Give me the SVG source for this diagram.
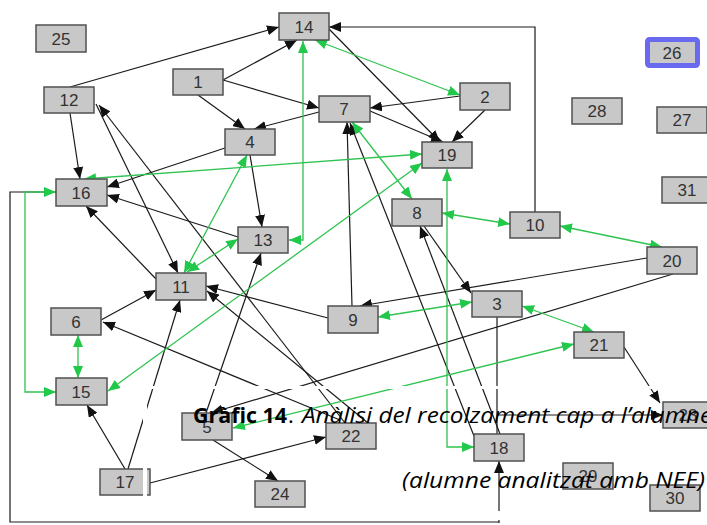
<svg xmlns="http://www.w3.org/2000/svg" width="707" height="525" viewBox="0 0 707 525">
  <style>
    .node rect { fill: #c8c8c8; stroke: #505050; stroke-width: 1.5; }
    .node text { font-family: "Liberation Sans", Arial, sans-serif; font-size: 17px; fill: #333; text-anchor: middle; }
    .e { fill: none; stroke: #1a1a1a; stroke-width: 1.2; }
    .g { fill: none; stroke: #2fc350; stroke-width: 1.3; }
    .ea { marker-end: url(#ab); }
    .ga2 { marker-start: url(#ag); marker-end: url(#ag); }
    .cap { font-family: "Open Sans", "Noto Sans", sans-serif; font-size: 22px; fill: #000; }
  </style>
  <defs>
    <marker id="ab" viewBox="0 0 12 10" refX="12" refY="5" markerWidth="12" markerHeight="10" markerUnits="userSpaceOnUse" orient="auto-start-reverse">
      <path d="M0,0 L12,5 L0,10 Z" fill="#111"/>
    </marker>
    <marker id="ag" viewBox="0 0 12 10" refX="12" refY="5" markerWidth="12" markerHeight="10" markerUnits="userSpaceOnUse" orient="auto-start-reverse">
      <path d="M0,0 L12,5 L0,10 Z" fill="#22c84a"/>
    </marker>
  </defs>

  <!-- connectors -->
  <g id="edges">
    <!-- directed links -->
    <path class="e ea" d="M70,87 L279,27"/>
    <path class="e ea" d="M223,80 L297,40"/>
    <path class="e ea" d="M223,80 L319,108"/>
    <path class="e ea" d="M198,95 L245,129"/>
    <path class="e ea" d="M319,112 L254,129"/>
    <path class="e ea" d="M329,29 L440,142"/>
    <path class="e ea" d="M535,212 V27 H329"/>
    <path class="e ea" d="M460,96 L370,108"/>
    <path class="e ea" d="M370,111 L443,142"/>
    <path class="e ea" d="M485,110 L452,142"/>
    <path class="e ea" d="M70,113 L80,179"/>
    <path class="e ea" d="M96,104 L178,273"/>
    <path class="e ea" d="M345,423 L99,105"/>
    <path class="e ea" d="M368,423 L207,291"/>
    <path class="e ea" d="M340,420 L103,322"/>
    <path class="e ea" d="M225,148 L107,187"/>
    <path class="e ea" d="M238,237 L107,195"/>
    <path class="e ea" d="M156,279 L86,206"/>
    <path class="e ea" d="M250,155 L262,227"/>
    <path class="e ea" d="M101,320 L156,290"/>
    <path class="e ea" d="M328,318 L206,286"/>
    <path class="e ea" d="M352,306 L347,122"/>
    <path class="e ea" d="M474,436 L350,123"/>
    <path class="e ea" d="M500,434 L420,226"/>
    <path class="e ea" d="M424,226 L471,293"/>
    <path class="e" d="M497,317 V434"/>
    <path class="e ea" d="M497,415 H663"/>
    <path class="e ea" d="M647,258 L360,306"/>
    <path class="e ea" d="M673,274 L211,413"/>
    <path class="e ea" d="M206,413 L261,253"/>
    <path class="e ea" d="M213,440 L278,481"/>
    <path class="e ea" d="M125,469 L87,405"/>
    <path class="e ea" d="M128,469 L180,300"/>
    <path class="e ea" d="M150,483 L326,437"/>
    <path class="e ea" d="M624,347 L660,403"/>
    <path class="e ea" d="M499,523 V461"/>
    <path class="e" d="M499,522 H10 V192 H56"/>

    <!-- mutual links -->
    <path class="g ga2" d="M315,40 L460,95"/>
    <path class="g ga2" d="M303,41 V240 H289"/>
    <path class="g ga2" d="M422,154 L84,179"/>
    <path class="g ga2" d="M422,163 L108,391"/>
    <path class="g ga2" d="M447,169 V447 H474"/>
    <path class="g ga2" d="M352,122 L412,199"/>
    <path class="g ga2" d="M247,155 L184,273"/>
    <path class="g ga2" d="M238,239 L187,272"/>
    <path class="g ga2" d="M442,213 L510,224"/>
    <path class="g ga2" d="M560,226 L662,247"/>
    <path class="g ga2" d="M378,317 L472,302"/>
    <path class="g ga2" d="M522,306 L594,332"/>
    <path class="g ga2" d="M574,344 L233,428"/>
    <path class="g ga2" d="M78,335 V378"/>
    <path class="g ga2" d="M56,192 H25 V392 H56"/>
  </g>

  <!-- nodes -->
  <g id="n25" class="node"><rect x="36" y="25" width="50" height="27"/><text x="61" y="45">25</text></g>
  <g id="n14" class="node"><rect x="279" y="13" width="50" height="27"/><text x="304" y="33">14</text></g>
  <g id="n1" class="node"><rect x="173" y="69" width="50" height="26"/><text x="198" y="88">1</text></g>
  <g id="n12" class="node"><rect x="44" y="87" width="50" height="26"/><text x="69" y="106">12</text></g>
  <g id="n7" class="node"><rect x="319" y="96" width="51" height="26"/><text x="344" y="115">7</text></g>
  <g id="n4" class="node"><rect x="225" y="129" width="50" height="26"/><text x="250" y="148">4</text></g>
  <g id="n2" class="node"><rect x="460" y="83" width="50" height="27"/><text x="485" y="103">2</text></g>
  <g id="n19" class="node"><rect x="422" y="142" width="50" height="26"/><text x="447" y="161">19</text></g>
  <g id="n26" class="node"><rect x="647.5" y="39.5" width="50" height="26" rx="2" style="stroke:#6a6af0;stroke-width:5"/><text x="672" y="59">26</text></g>
  <g id="n28" class="node"><rect x="572" y="98" width="50" height="26"/><text x="597" y="117">28</text></g>
  <g id="n27" class="node"><rect x="657" y="107" width="50" height="26"/><text x="682" y="126">27</text></g>
  <g id="n31" class="node"><rect x="662" y="177" width="50" height="26"/><text x="687" y="196">31</text></g>
  <g id="n10" class="node"><rect x="510" y="212" width="50" height="26"/><text x="535" y="231">10</text></g>
  <g id="n8" class="node"><rect x="392" y="199" width="50" height="27"/><text x="417" y="219">8</text></g>
  <g id="n20" class="node"><rect x="647" y="247" width="50" height="27"/><text x="672" y="267">20</text></g>
  <g id="n3" class="node"><rect x="472" y="291" width="50" height="26"/><text x="497" y="310">3</text></g>
  <g id="n9" class="node"><rect x="328" y="306" width="50" height="27"/><text x="353" y="326">9</text></g>
  <g id="n13" class="node"><rect x="238" y="227" width="50" height="26"/><text x="263" y="246">13</text></g>
  <g id="n11" class="node"><rect x="156" y="273" width="50" height="27"/><text x="181" y="293">11</text></g>
  <g id="n16" class="node"><rect x="56" y="179" width="51" height="27"/><text x="81" y="199">16</text></g>
  <g id="n6" class="node"><rect x="51" y="308" width="50" height="27"/><text x="76" y="328">6</text></g>
  <g id="n15" class="node"><rect x="56" y="378" width="51" height="27"/><text x="81" y="398">15</text></g>
  <g id="n17" class="node"><rect x="100" y="469" width="50" height="26"/><text x="125" y="488">17</text></g>
  <g id="n22" class="node"><rect x="326" y="423" width="50" height="26"/><text x="351" y="442">22</text></g>
  <g id="n5" class="node"><rect x="182" y="413" width="50" height="27"/><text x="207" y="433">5</text></g>
  <g id="n24" class="node"><rect x="255" y="481" width="50" height="26"/><text x="280" y="500">24</text></g>
  <g id="n18" class="node"><rect x="474" y="434" width="50" height="27"/><text x="499" y="454">18</text></g>
  <g id="n21" class="node"><rect x="574" y="332" width="50" height="26"/><text x="599" y="351">21</text></g>
  <g id="n23" class="node"><rect x="663" y="402" width="50" height="26"/><text x="688" y="421">23</text></g>
  <g id="n29" class="node"><rect x="563" y="463" width="50" height="26"/><text x="588" y="482">29</text></g>
  <g id="n30" class="node"><rect x="650" y="485" width="50" height="26"/><text x="675" y="504">30</text></g>

  <!-- caption strips -->
  <rect x="143" y="386" width="564" height="3" fill="#fff"/>
  <rect x="143" y="386" width="4" height="112" fill="#fff"/>
  <rect x="495" y="511" width="8" height="9" fill="#fff"/>

  <!-- caption -->
  <text class="cap" y="423"><tspan x="193" font-weight="bold" textLength="94" lengthAdjust="spacingAndGlyphs">Gràfic 14</tspan><tspan x="288">.</tspan><tspan x="302" font-style="italic" textLength="410" lengthAdjust="spacingAndGlyphs">Anàlisi del recolzament cap a l’alumne</tspan></text>
  <text class="cap" x="402" y="488" font-style="italic" textLength="303" lengthAdjust="spacingAndGlyphs">(alumne analitzat amb NEE)</text>
</svg>
